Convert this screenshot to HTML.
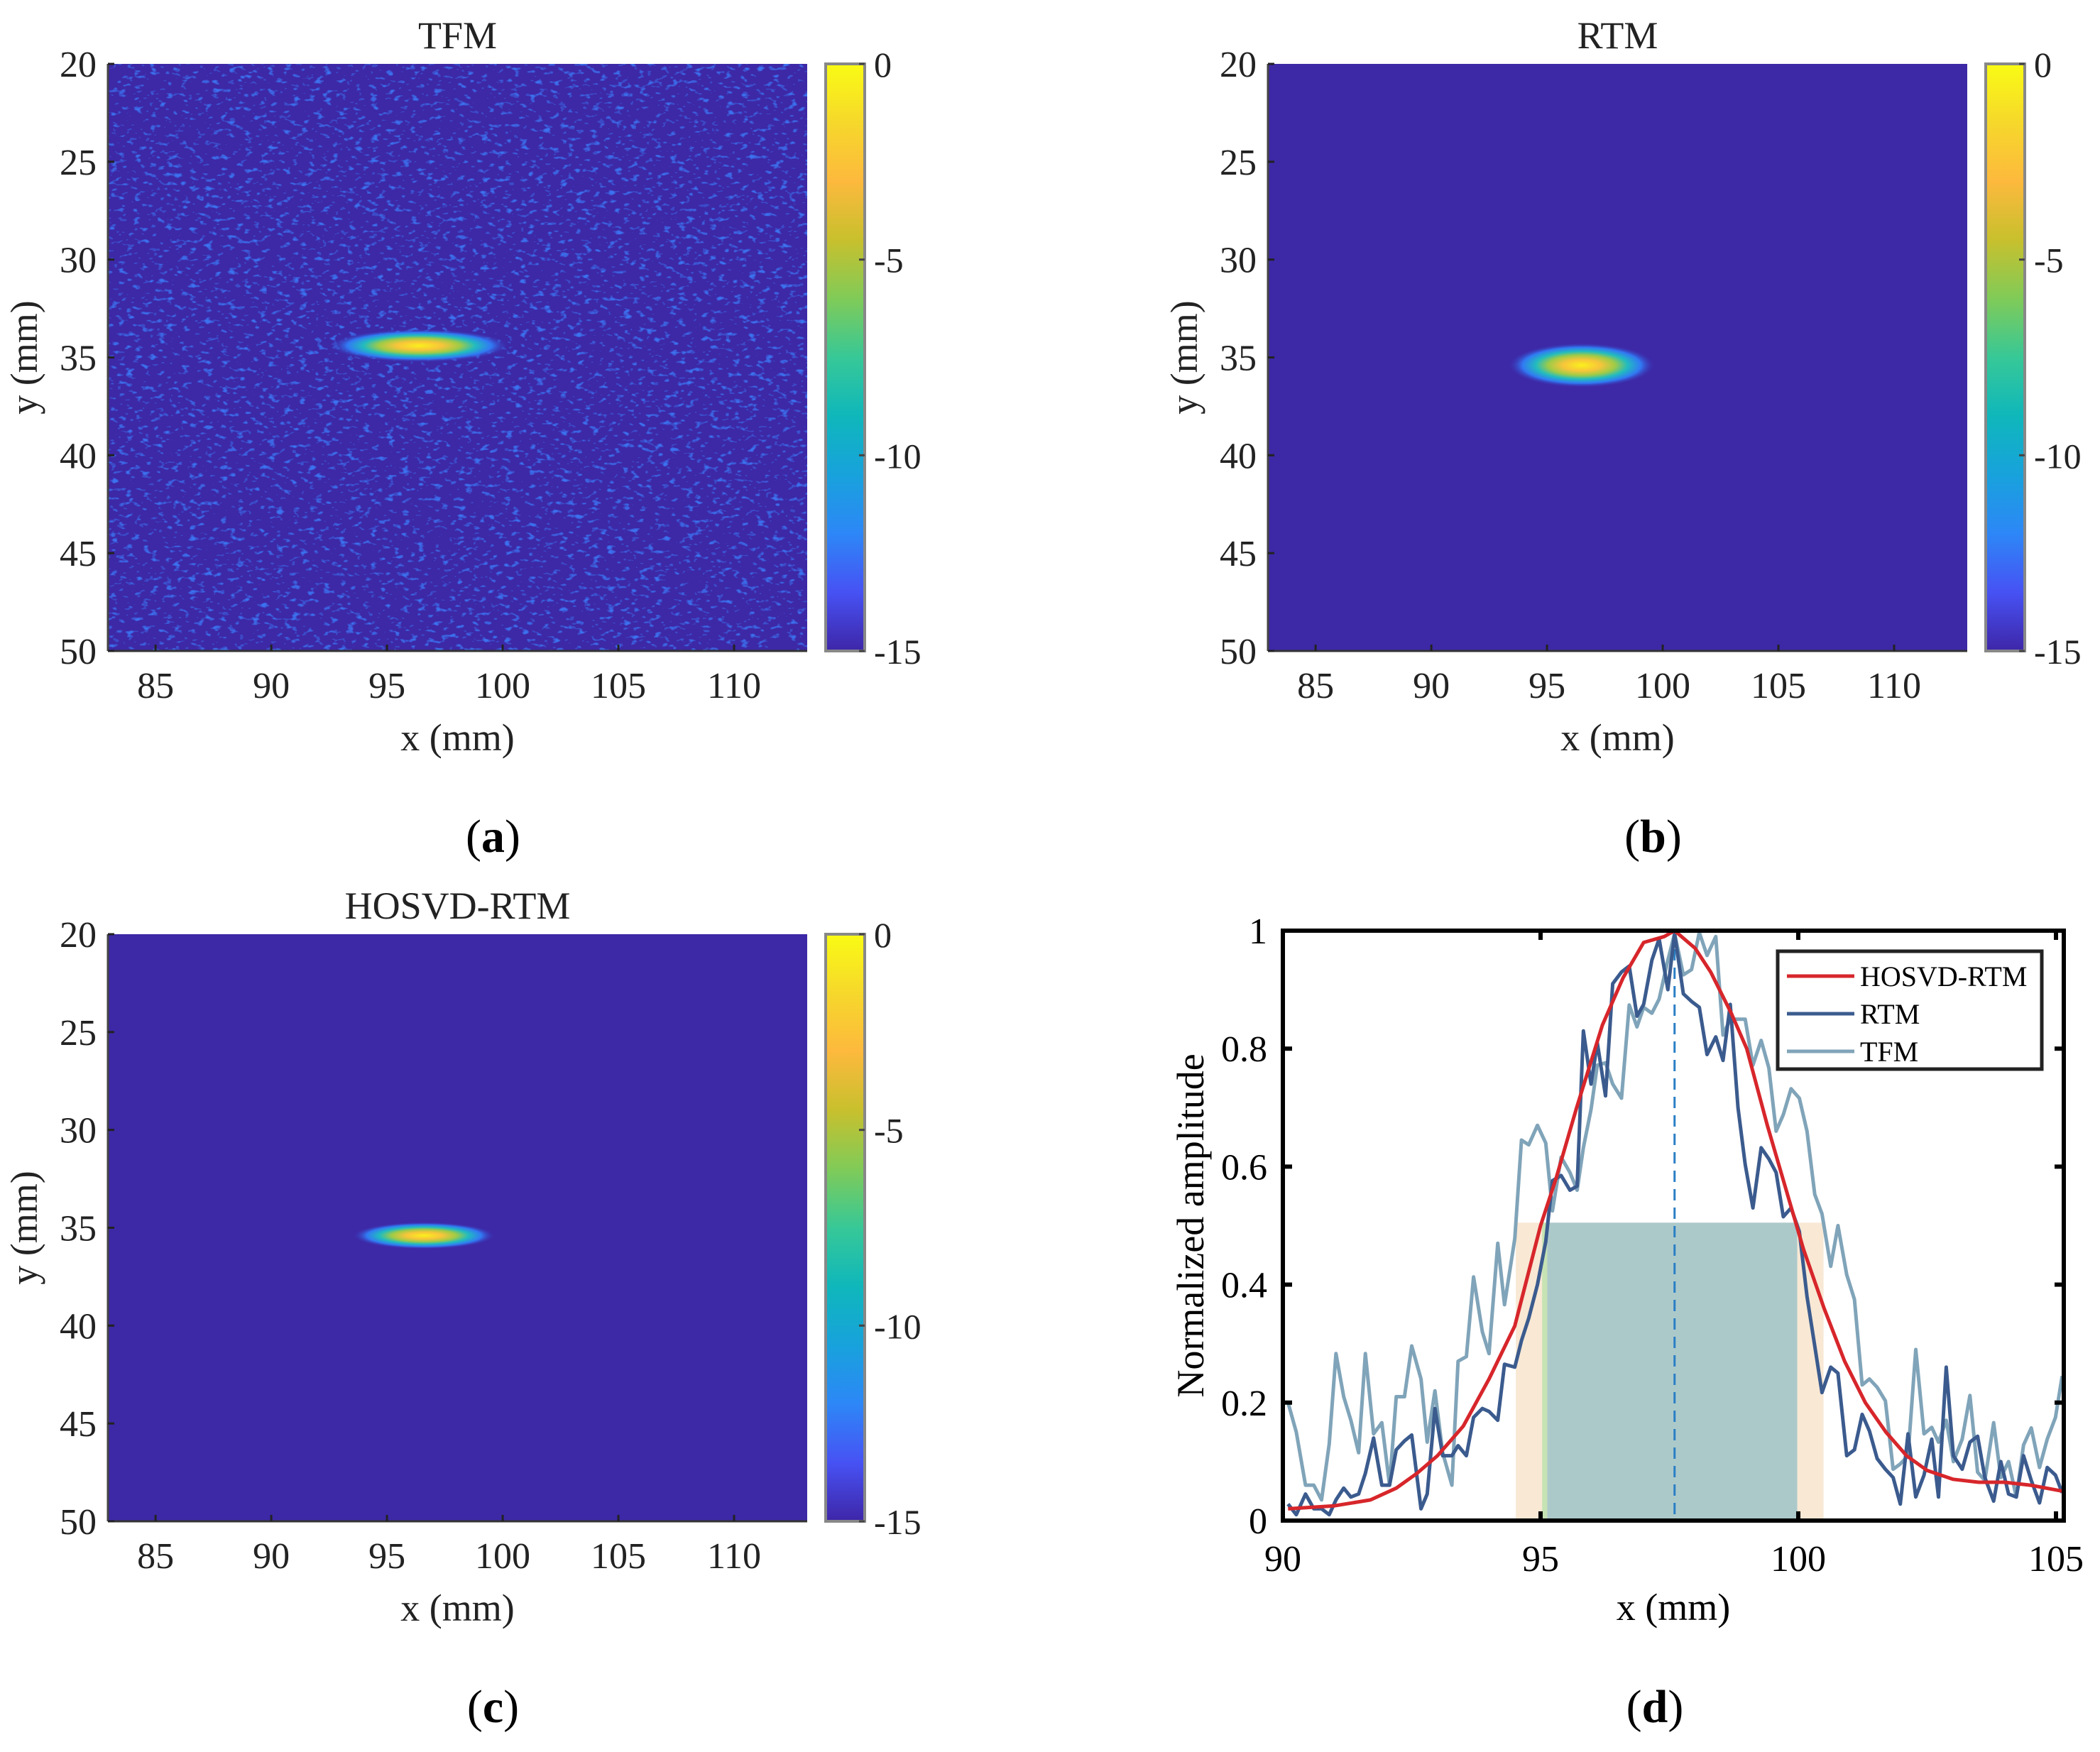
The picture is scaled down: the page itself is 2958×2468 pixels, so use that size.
<!DOCTYPE html>
<html><head><meta charset="utf-8"><style>
html,body{margin:0;padding:0;background:#fff;}
svg{display:block;font-family:"Liberation Serif",serif;}
</style></head><body>
<svg id="fig" width="2958" height="2468" viewBox="0 0 2958 2468" xmlns="http://www.w3.org/2000/svg">
<defs>
  <linearGradient id="parula" x1="0" y1="1" x2="0" y2="0">
    <stop offset="0" stop-color="#3e26a8"/>
    <stop offset="0.1" stop-color="#4752f4"/>
    <stop offset="0.2" stop-color="#2d87f7"/>
    <stop offset="0.3" stop-color="#18a2dc"/>
    <stop offset="0.4" stop-color="#0fb7bb"/>
    <stop offset="0.5" stop-color="#37c897"/>
    <stop offset="0.6" stop-color="#80cb58"/>
    <stop offset="0.7" stop-color="#c8c02d"/>
    <stop offset="0.8" stop-color="#fdb93d"/>
    <stop offset="0.9" stop-color="#f6d82b"/>
    <stop offset="1" stop-color="#f9fb14"/>
  </linearGradient>
  <radialGradient id="blob">
    <stop offset="0" stop-color="#f9f01c"/>
    <stop offset="0.25" stop-color="#f8c53a"/>
    <stop offset="0.45" stop-color="#9fcb47"/>
    <stop offset="0.62" stop-color="#22bbbf"/>
    <stop offset="0.8" stop-color="#3179f4"/>
    <stop offset="1" stop-color="#3d28a6" stop-opacity="0"/>
  </radialGradient>
  <filter id="speck" x="0" y="0" width="100%" height="100%">
    <feTurbulence type="fractalNoise" baseFrequency="0.09 0.16" numOctaves="2" seed="7" result="n"/>
    <feColorMatrix in="n" type="matrix" values="0 0 0 0 0  0 0 0 0 0  0 0 0 0 0  1.6 0 0 0 -0.35" result="a"/>
    <feComponentTransfer in="a" result="t"><feFuncA type="discrete" tableValues="0 0 0 0 0 0.45 0.8 1"/></feComponentTransfer>
    <feFlood flood-color="#3a72f0"/>
    <feComposite in2="t" operator="in"/>
  </filter>
</defs>
<g id="root"></g>
</svg>
<script>
// ---------- heatmap blob data (mm) ----------
const panelTitles = ['TFM','RTM','HOSVD-RTM'];
const blobCx = [96.4, 96.5, 96.6];
const blobCy = [34.4, 35.4, 35.4];
const blobRx = [3.9, 3.2, 3.1];
const blobRy = [0.85, 1.15, 0.7];
const heatXTicks = [85, 90, 95, 100, 105, 110];
const heatYTicks = [20, 25, 30, 35, 40, 45, 50];
const cbTicks = [0, -5, -10, -15];

// ---------- profile data (d) ----------
const xs = [90.1,90.26,90.44,90.6,90.75,90.9,91.03,91.18,91.32,91.47,91.6,91.76,91.92,92.07,92.2,92.36,92.5,92.68,92.8,92.95,93.1,93.28,93.4,93.56,93.7,93.87,94.0,94.17,94.3,94.5,94.63,94.77,94.94,95.1,95.23,95.4,95.57,95.71,95.83,95.98,96.1,96.26,96.4,96.57,96.72,96.87,97.0,97.16,97.3,97.47,97.6,97.77,97.93,98.08,98.23,98.4,98.54,98.68,98.83,98.97,99.12,99.28,99.43,99.57,99.71,99.86,100.02,100.17,100.32,100.46,100.63,100.77,100.94,101.09,101.24,101.38,101.53,101.69,101.84,101.98,102.13,102.28,102.44,102.59,102.72,102.87,103.01,103.18,103.33,103.48,103.62,103.79,103.93,104.08,104.23,104.37,104.52,104.68,104.83,104.99,105.12];
const rtm = [0.028,0.01,0.045,0.02,0.02,0.01,0.035,0.055,0.04,0.045,0.08,0.14,0.06,0.06,0.12,0.135,0.145,0.02,0.045,0.19,0.11,0.11,0.127,0.11,0.175,0.19,0.185,0.17,0.265,0.26,0.305,0.343,0.4,0.473,0.576,0.585,0.56,0.567,0.83,0.74,0.81,0.72,0.91,0.93,0.94,0.855,0.875,0.95,0.986,0.9,0.995,0.893,0.88,0.87,0.79,0.82,0.78,0.875,0.7,0.604,0.53,0.632,0.613,0.59,0.515,0.53,0.49,0.38,0.296,0.217,0.26,0.25,0.11,0.12,0.18,0.152,0.105,0.087,0.073,0.028,0.147,0.04,0.077,0.138,0.04,0.26,0.11,0.087,0.133,0.143,0.073,0.033,0.1,0.045,0.04,0.11,0.068,0.03,0.09,0.077,0.047];
const tfm = [0.2,0.15,0.06,0.06,0.035,0.13,0.283,0.21,0.17,0.115,0.283,0.147,0.166,0.06,0.21,0.21,0.296,0.24,0.133,0.22,0.115,0.06,0.27,0.278,0.413,0.32,0.283,0.47,0.366,0.478,0.645,0.637,0.67,0.64,0.525,0.616,0.59,0.56,0.632,0.697,0.772,0.776,0.74,0.716,0.874,0.837,0.87,0.86,0.884,0.95,0.995,0.925,0.934,0.997,0.958,0.99,0.823,0.85,0.85,0.85,0.772,0.814,0.767,0.66,0.688,0.732,0.716,0.66,0.553,0.52,0.431,0.5,0.417,0.375,0.23,0.24,0.226,0.203,0.087,0.096,0.11,0.29,0.147,0.158,0.133,0.17,0.1,0.138,0.212,0.082,0.068,0.166,0.073,0.1,0.04,0.128,0.157,0.09,0.138,0.175,0.245];
const hosvdX = [90.1,91.0,91.7,92.2,92.6,93.0,93.5,94.0,94.5,95.0,95.3,95.7,96.2,96.6,97.0,97.4,97.6,98.0,98.3,98.7,99.0,99.4,99.8,100.1,100.5,100.9,101.3,101.7,102.1,102.5,103.0,103.5,104.0,104.5,105.12];
const hosvdY = [0.02,0.025,0.035,0.055,0.08,0.11,0.16,0.24,0.33,0.5,0.58,0.7,0.84,0.92,0.98,0.99,1.0,0.97,0.93,0.86,0.8,0.67,0.55,0.46,0.36,0.27,0.2,0.15,0.11,0.085,0.07,0.065,0.065,0.06,0.05];
const fwhmOuter = [94.52, 100.49];
const fwhmInner = [95.13, 99.98];
const fwhmGreen = [95.03, 95.13];
const halfLevel = 0.505;
const peakX = 97.6;
const dXTicks = [90, 95, 100, 105];
const dYTicks = [0, 0.2, 0.4, 0.6, 0.8, 1];
const dYTickLabels = ['0','0.2','0.4','0.6','0.8','1'];

const NS='http://www.w3.org/2000/svg';
const root=document.getElementById('root');
function mk(tag, attrs, parent){const e=document.createElementNS(NS,tag);for(const k in attrs)e.setAttribute(k,attrs[k]);(parent||root).appendChild(e);return e;}

const panels=[{L:152,T:90,R:1137,B:917,cb:1163,lab:'(a)',ly:1200},{L:1786,T:90,R:2771,B:917,cb:2797,lab:'(b)',ly:1200},{L:152,T:1316,R:1137,B:2143,cb:1163,lab:'(c)',ly:2426}];
const XMIN=82.94,XMAX=113.16,YMIN=20,YMAX=50;
panels.forEach((p,i)=>{
  const g=mk('g',{});
  
  
  const sx=v=>p.L+(v-XMIN)/(XMAX-XMIN)*(p.R-p.L);
  const sy=v=>p.T+(v-YMIN)/(YMAX-YMIN)*(p.B-p.T);
  const cid='clip'+i;
  const cp=mk('clipPath',{id:cid},g); mk('rect',{x:p.L,y:p.T,width:p.R-p.L,height:p.B-p.T},cp);
  const bg=mk('rect',{x:p.L,y:p.T,width:p.R-p.L,height:p.B-p.T,fill:'#3d28a6'},g);
  
  
  if(i===0){const sp=mk('rect',{x:p.L,y:p.T,width:p.R-p.L,height:p.B-p.T,fill:'#000',filter:'url(#speck)'},g);
    
    }
  const bl=mk('ellipse',{cx:sx(blobCx[i]),cy:sy(blobCy[i]),rx:blobRx[i]/(XMAX-XMIN)*(p.R-p.L),ry:blobRy[i]/(YMAX-YMIN)*(p.B-p.T),fill:'url(#blob)','clip-path':'url(#'+cid+')'},g);
  
  
  mk('line',{x1:p.L,y1:p.T,x2:p.L,y2:p.B,stroke:'#444',"stroke-width":3},g);
  mk('line',{x1:p.L,y1:p.B,x2:p.R,y2:p.B,stroke:'#333',"stroke-width":3},g);
  heatXTicks.forEach(v=>{const x=sx(v);mk('line',{x1:x,y1:p.B,x2:x,y2:p.B-9,stroke:'#222','stroke-width':3},g);
    const t=mk('text',{x:x,y:p.B+66,'text-anchor':'middle','font-size':52,fill:'#222'},g);t.textContent=v;
    
    });
  heatYTicks.forEach(v=>{const y=sy(v);mk('line',{x1:p.L,y1:y,x2:p.L+9,y2:y,stroke:'#222','stroke-width':3},g);
    const t=mk('text',{x:p.L-16,y:y+18,'text-anchor':'end','font-size':52,fill:'#222'},g);t.textContent=v;
    
    });
  const ti=mk('text',{x:(p.L+p.R)/2,y:p.T-22,'text-anchor':'middle','font-size':54,fill:'#222'},g);ti.textContent=panelTitles[i];
  
  
  const xl=mk('text',{x:(p.L+p.R)/2,y:p.B+140,'text-anchor':'middle','font-size':54,fill:'#222'},g);xl.textContent='x (mm)';
  
  
  const yl=mk('text',{x:0,y:0,'text-anchor':'middle','font-size':54,fill:'#222',transform:'translate('+(p.L-100)+','+((p.T+p.B)/2)+') rotate(-90)'},g);yl.textContent='y (mm)';
  
  
  const cb=mk('rect',{x:p.cb,y:p.T,width:55,height:p.B-p.T,fill:'url(#parula)',stroke:'#888','stroke-width':4},g);
  
  
  cbTicks.forEach(v=>{const y=p.T+(0-v)/15*(p.B-p.T);
    mk('line',{x1:p.cb+55,y1:y,x2:p.cb+47,y2:y,stroke:'#444','stroke-width':3},g);
    const t=mk('text',{x:p.cb+68,y:y+18,'font-size':50,fill:'#222'},g);t.textContent=v===0?'0':v;
    
    });
  const pl=mk('text',{x:(p.L+p.R)/2+50,y:p.ly,'text-anchor':'middle','font-size':66,fill:'#000'},g);
  pl.innerHTML='(<tspan font-weight="bold">'+p.lab[1]+'</tspan>)';
  
  
});

(function(){
  const L=1807,R=2907,T=1311,B=2142;
  const g=mk('g',{});
  
  
  const sx=v=>L+(v-90)/15*(2896-L);
  const sy=v=>B-v*(B-T);
  const r1=mk('rect',{x:sx(fwhmOuter[0]),y:sy(halfLevel),width:sx(fwhmOuter[1])-sx(fwhmOuter[0]),height:sy(0)-sy(halfLevel),fill:'#f8e8d4'},g);
  
  
  const r3=mk('rect',{x:sx(fwhmGreen[0]),y:sy(halfLevel),width:sx(fwhmGreen[1])-sx(fwhmGreen[0]),height:sy(0)-sy(halfLevel),fill:'#c6e3b3'},g);
  
  
  const r2=mk('rect',{x:sx(fwhmInner[0]),y:sy(halfLevel),width:sx(fwhmInner[1])-sx(fwhmInner[0]),height:sy(0)-sy(halfLevel),fill:'#acc9ca'},g);
  
  
  const pk=mk('line',{x1:sx(peakX),y1:sy(1),x2:sx(peakX),y2:sy(0),stroke:'#2a7fc4','stroke-width':3,'stroke-dasharray':'16 10'},g);
  
  
  function line(X,Y,col,name){const d=X.map((x,i)=>(i?'L':'M')+sx(x).toFixed(1)+' '+sy(Y[i]).toFixed(1)).join(' ');
    const p=mk('path',{d:d,fill:'none',stroke:col,'stroke-width':5,'stroke-linejoin':'round'},g);
    
    }
  line(xs,tfm,'#80a4b9','series-tfm');
  line(xs,rtm,'#3b5b8e','series-rtm');
  line(hosvdX,hosvdY,'#d7262b','series-hosvd-rtm');
  mk('rect',{x:L,y:T,width:R-L,height:B-T,fill:'none',stroke:'#000','stroke-width':6},g);
  dXTicks.forEach(v=>{const x=sx(v);
    mk('line',{x1:x,y1:B,x2:x,y2:B-13,stroke:'#000','stroke-width':6},g);
    mk('line',{x1:x,y1:T,x2:x,y2:T+13,stroke:'#000','stroke-width':6},g);
    const t=mk('text',{x:x,y:B+71,'text-anchor':'middle','font-size':52},g);t.textContent=v;
    
    });
  dYTicks.forEach((v,i)=>{const y=sy(v);
    mk('line',{x1:L,y1:y,x2:L+13,y2:y,stroke:'#000','stroke-width':6},g);
    mk('line',{x1:R,y1:y,x2:R-13,y2:y,stroke:'#000','stroke-width':6},g);
    const t=mk('text',{x:L-22,y:y+18,'text-anchor':'end','font-size':52},g);t.textContent=dYTickLabels[i];
    
    });
  const xl=mk('text',{x:2357,y:2282,'text-anchor':'middle','font-size':54},g);xl.textContent='x (mm)';
  
  
  const yl=mk('text',{x:0,y:0,'text-anchor':'middle','font-size':54,transform:'translate(1695,'+((T+B)/2)+') rotate(-90)'},g);yl.textContent='Normalized amplitude';
  
  
  const lg=mk('g',{},g);
  
  
  mk('rect',{x:2504,y:1340,width:372,height:166,fill:'#fff',stroke:'#222','stroke-width':5},lg);
  [['HOSVD-RTM','#d7262b'],['RTM','#3b5b8e'],['TFM','#80a4b9']].forEach((e,i)=>{const y=1375+i*53;
    const le=mk('g',{},lg);
    
    
    mk('line',{x1:2517,y1:y,x2:2612,y2:y,stroke:e[1],'stroke-width':5},le);
    const t=mk('text',{x:2620,y:y+14,'font-size':40},le);t.textContent=e[0];});
  const pl=mk('text',{x:2331,y:2426,'text-anchor':'middle','font-size':66},g);
  pl.innerHTML='(<tspan font-weight="bold">d</tspan>)';
  
  
})();
</script>
</body></html>
